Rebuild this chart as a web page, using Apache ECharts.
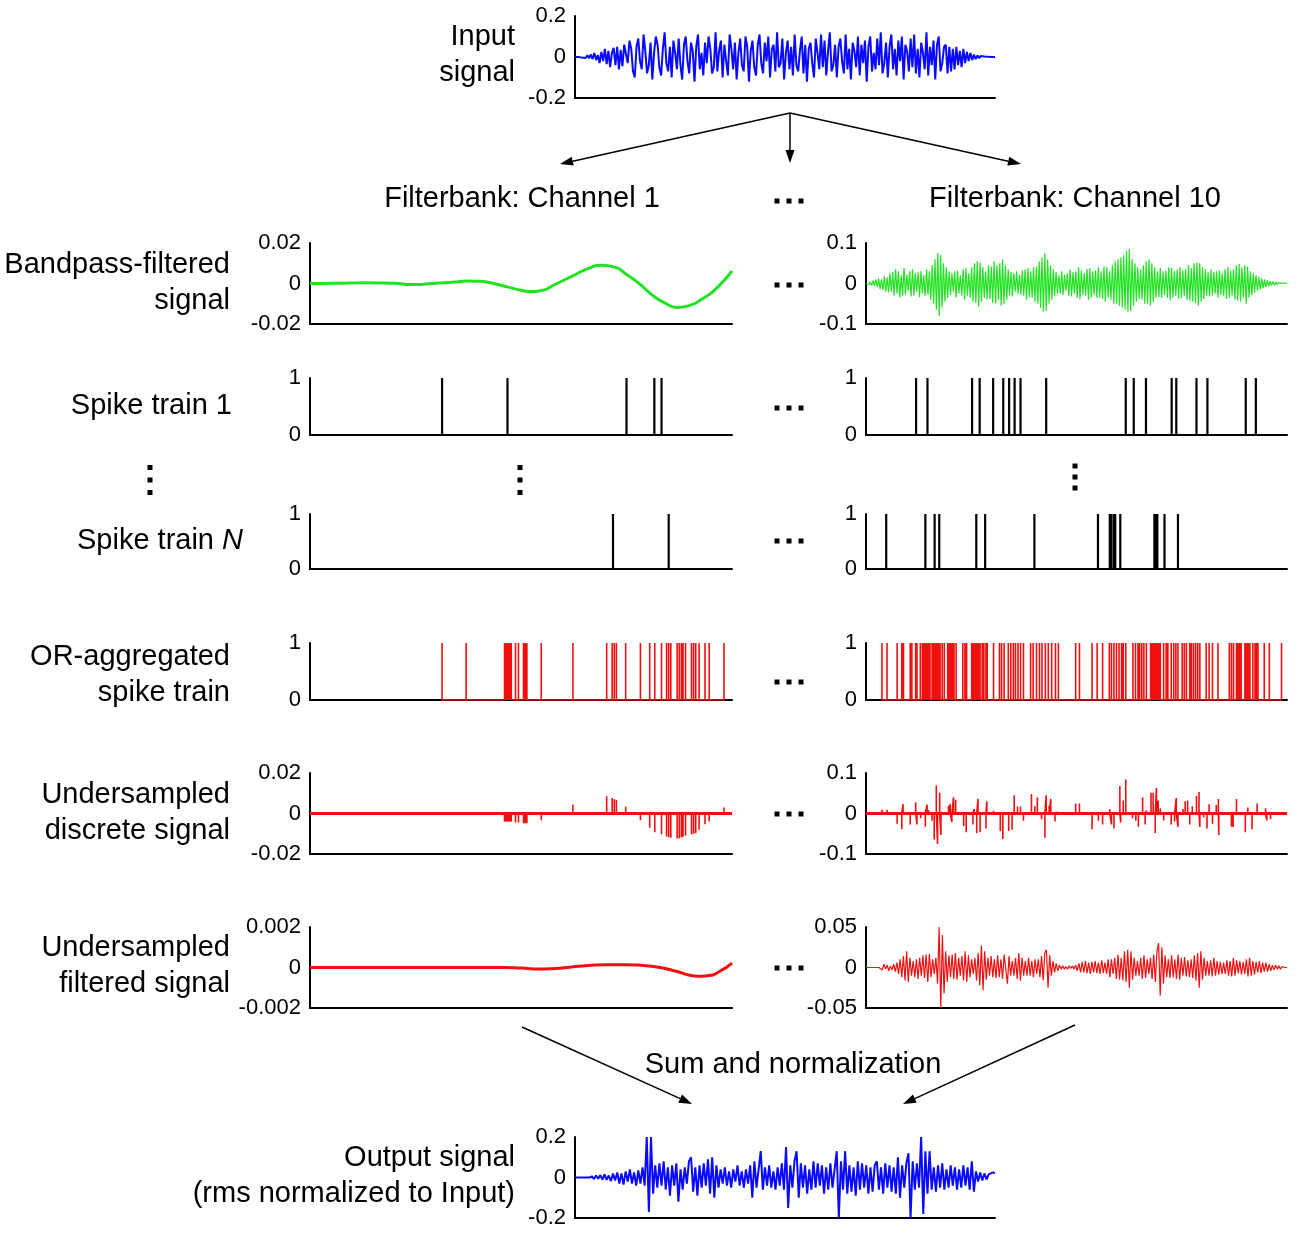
<!DOCTYPE html>
<html>
<head>
<meta charset="utf-8">
<script src="https://cdn.jsdelivr.net/npm/echarts@6/dist/echarts.min.js"></script>
<style>
  html, body { margin: 0; padding: 0; background: #fff; }
  #chart { width: 1300px; height: 1234px; }
</style>
</head>
<body>
<div id="chart"></div>
<script>
// ---- data ----
// x positions of events are on a 0..1000 time scale
var inputSignal = [0,0,0,.002,-.003,.004,-.005,.008,-.006,
  .012,-.01,.02,-.015,.01,-.03,.025,-.02,.04,-.035,.03,-.05,.02,.045,-.04,.05,-.06,.035,-.045,.06,
  .06,-.03,.08,.04,-.07,-.1,.05,.09,-.02,-.06,.11,.03,-.08,-.04,.07,-.11,.02,.1,.06,-.05,
  -.09,.04,.12,-.03,-.07,.05,-.1,.08,.02,-.06,.09,-.04,-.11,.06,.1,-.02,-.08,.07,.03,-.12,
  .05,.11,-.06,.02,-.09,.07,-.03,.1,.04,-.08,-.05,.12,-.07,.03,.08,-.1,.06,-.02,-.09,.11,
  .04,-.06,.07,-.11,.02,.09,-.04,-.07,.1,.05,-.12,.03,.08,-.05,-.09,.06,.11,-.03,-.08,.07,
  -.02,.1,-.1,.04,.06,-.07,.12,-.05,-.03,.09,-.11,.02,.08,-.06,.05,-.09,.11,-.04,-.07,.03,
  .1,-.08,.06,-.12,.04,.07,-.03,-.1,.09,.02,-.06,.11,-.05,.08,-.09,.03,.12,-.07,-.04,.06,
  -.1,.05,.09,-.02,-.08,.11,-.06,.04,-.11,.07,.03,-.05,.1,-.09,.06,-.03,.08,-.12,.05,.1,
  -.07,.02,-.06,.09,-.04,.12,-.08,-.03,.07,-.1,.05,.11,-.06,.04,-.09,.08,-.02,.1,-.11,.06,
  .03,-.07,.09,-.05,.11,-.08,.04,-.1,.07,.02,-.06,.12,-.09,.05,-.04,.08,-.11,.06,.1,-.07,
  -.03,.05,
  .06,-.08,.05,-.07,.04,-.06,.05,-.04,.03,-.05,.04,-.03,.025,-.02,.02,-.015,.012,-.01,.008,-.006,
  .005,-.003,.002,-.002,.001,0,0,0,0];

var ch1Bandpass = [[0,0],[60,.0001],[128,.0004],[200,.0001],[240,-.0005],[290,0],[318,.0004],
  [345,.0007],[369,.0012],[400,.0011],[430,.0002],[470,-.0018],[500,-.0033],[525,-.004],
  [550,-.0034],[580,-.0005],[620,.0035],[660,.0075],[690,.009],[720,.0082],[750,.0045],
  [780,0],[810,-.0055],[840,-.0095],[870,-.0118],[900,-.0108],[930,-.0075],[960,-.003],[1000,.0062]];

var ch10Bandpass = [0,.002,-.003,.004,-.005,.007,-.006,.01,-.009,.012,-.014,.01,-.016,.018,-.02,.015,-.022,.025,-.02,.028,
  -.03,.035,-.025,.03,-.035,.02,-.03,.038,-.028,.022,-.018,.03,-.032,.036,-.03,.025,-.02,.028,-.034,.03,
  -.025,.02,-.03,.035,-.028,.03,-.04,.045,-.05,.06,-.065,.075,-.08,.07,-.06,.05,-.045,.04,-.035,.03,
  -.028,.025,-.02,.03,-.035,.032,-.025,.02,-.03,.035,-.04,.038,-.03,.025,-.035,.04,-.045,.05,-.048,.055,
  -.058,.052,-.045,.04,-.035,.03,-.04,.045,-.038,.042,-.048,.055,-.05,.045,-.04,.05,-.055,.06,-.05,.045,
  -.04,.035,-.03,.028,-.032,.025,-.02,.03,-.025,.022,-.028,.032,-.03,.035,-.04,.038,-.033,.03,-.035,.04,
  -.045,.042,-.05,.055,-.06,.065,-.07,.075,-.068,.06,-.05,.045,-.04,.035,-.03,.028,-.025,.02,-.025,.03,
  -.028,.022,-.018,.025,-.03,.035,-.032,.028,-.025,.03,-.035,.04,-.038,.032,-.028,.025,-.03,.035,-.04,.038,
  -.035,.03,-.028,.032,-.036,.04,-.035,.03,-.038,.042,-.045,.04,-.035,.03,-.04,.045,-.05,.055,-.05,.06,
  -.055,.065,-.06,.07,-.065,.08,-.07,.085,-.068,.06,-.055,.05,-.045,.04,-.038,.035,-.04,.045,-.05,.055,
  -.05,.06,-.055,.05,-.045,.04,-.035,.03,-.033,.038,-.035,.03,-.028,.032,-.035,.04,-.042,.038,-.035,.03,
  -.03,.035,-.038,.04,-.036,.032,-.03,.035,-.04,.045,-.042,.038,-.045,.05,-.048,.052,-.055,.05,-.045,.04,
  -.038,.035,-.03,.028,-.032,.035,-.03,.028,-.025,.03,-.035,.032,-.028,.025,-.03,.035,-.038,.04,-.036,.032,
  -.03,.035,-.04,.045,-.042,.048,-.045,.04,-.035,.045,-.05,.042,-.035,.03,-.028,.025,-.022,.02,-.018,.016,
  -.015,.013,-.012,.01,-.009,.008,-.007,.006,-.005,.005,-.004,.003,-.003,.002,-.002,.001,-.001,.001,0,0];

var ch1Spikes1 = [313, 468, 750, 816, 833];
var ch1SpikesN = [718, 850];
var ch10Spikes1 = [119,146,252,270,302,326,340,353,367,428,617,636,665,726,737,785,811,902,926];
var ch10SpikesN = [48,141,163,174,262,283,400,551,579,583,589,592,604,685,688,692,709,741];

var ch1OR = [313,370,461,465,469,473,477,487,494,506,510,514,548,623,703,716,721,726,748,783,
  805,817,833,845,850,855,870,875,880,884,890,904,909,914,922,936,946,981];
var ch10OR = [38,50,74,85,89,105,109,118,121,129,134,137,141,145,149,152,157,160,164,168,172,176,181,186,
  194,198,201,205,209,214,230,235,239,251,255,259,263,267,271,276,280,285,288,303,317,322,328,
  338,344,350,355,361,367,374,391,397,405,412,418,426,433,441,450,457,498,507,537,549,562,
  578,583,589,595,601,607,611,617,634,640,646,650,655,660,666,676,680,684,688,692,696,699,
  707,713,717,725,731,736,741,751,756,761,769,773,778,783,788,793,808,815,823,836,
  863,868,873,880,883,887,891,900,904,908,912,919,924,928,931,946,958,987];

var ch1Discrete = [[313,.0002],[370,.0008],[461,-.004],[465,-.004],[469,-.004],[473,-.004],[477,-.004],
  [487,-.0045],[494,-.0045],[506,-.0048],[510,-.0048],[514,-.0048],[548,-.0033],[623,.0043],
  [703,.0085],[716,.0077],[721,.0072],[726,.0067],[748,.0033],[783,-.0033],[805,-.007],[817,-.0092],
  [833,-.0103],[845,-.0113],[850,-.0117],[855,-.012],[870,-.0123],[875,-.0122],[880,-.0118],
  [884,-.0115],[890,-.011],[904,-.0102],[909,-.01],[914,-.0097],[922,-.008],[936,-.0053],[946,-.004],[981,.003]];

var ch10Discrete = [[38,.009],[50,.009],[74,-.025],[85,-.039],[88,.023],[105,-.027],[118,.028],[121,-.027],
  [130,-.012],[141,-.033],[145,.022],[149,.008],[157,-.018],[162,-.064],[167,.069],[170,-.075],[175,.051],
  [178,-.053],[196,.019],[200,.023],[204,-.021],[208,.04],[213,.034],[232,-.031],[238,-.046],[254,-.027],
  [257,.011],[263,-.048],[266,.036],[271,-.046],[285,-.037],[287,.03],[303,.007],[319,-.043],[325,-.063],
  [339,-.043],[347,-.04],[352,.045],[360,.017],[367,.017],[374,-.018],[393,.048],[401,.018],[407,.04],
  [417,-.014],[425,-.06],[428,.045],[435,.019],[439,.036],[449,-.02],[455,.005],[498,.025],[507,.025],
  [537,-.039],[552,-.018],[562,-.027],[579,.011],[583,-.027],[589,-.037],[603,.068],[605,-.022],[611,.032],
  [617,.084],[633,-.012],[641,-.018],[647,-.033],[657,.04],[663,-.027],[666,.007],[677,.051],[682,.051],
  [687,-.048],[690,.063],[694,.032],[699,.013],[707,-.017],[725,-.027],[733,-.02],[737,.038],[741,-.033],
  [753,.011],[758,.03],[764,.032],[769,-.027],[775,.018],[785,.043],[791,.053],[793,-.033],[802,-.01],
  [810,-.037],[815,.023],[823,-.025],[832,.021],[837,.036],[838,-.053],[868,-.033],[872,-.033],[880,.036],
  [887,-.003],[901,-.046],[907,.015],[917,-.039],[929,.025],[949,.013],[952,-.017],[961,-.014]];

var ch1Filtered = [[0,0],[300,0],[460,0],[500,-.00003],[544,-.00008],[580,-.00005],[620,.00003],
  [660,.0001],[700,.00014],[750,.00014],[790,.0001],[830,0],[870,-.0002],[900,-.00038],
  [920,-.00043],[945,-.0004],[970,-.0002],[1000,.00022]];

var ch10Filtered = [0,0,0,0,0,0,0,0,0,.002,-.003,.004,-.002,.003,-.004,.002,-.003,.004,-.005,.006,
  -.008,.01,-.012,.014,-.016,.02,-.018,.012,-.01,.008,-.012,.01,-.014,.012,-.01,.015,-.013,.016,-.018,.017,
  -.012,.01,-.008,.012,-.02,.05,-.05,.04,-.032,.02,-.018,.015,-.012,.016,-.014,.018,-.015,.012,-.01,.014,
  -.016,.02,-.018,.015,-.012,.01,-.008,.012,-.016,.018,-.022,.027,-.028,.02,-.015,.012,-.01,.014,-.012,.01,
  -.013,.015,-.012,.01,-.014,.016,.018,-.02,.014,-.01,.008,-.01,.012,-.014,.018,-.016,.012,-.01,.008,-.01,
  .012,-.01,.008,-.012,.01,-.008,.01,-.012,.014,-.016,.018,.022,-.025,.015,-.01,.008,-.006,.005,-.004,.003,
  -.002,.002,-.002,.001,-.002,.002,-.001,.002,-.002,.003,-.004,.005,-.006,.007,-.006,.008,-.007,.006,-.008,.007,
  -.006,.008,-.007,.006,-.008,.009,-.007,.006,-.008,.01,-.012,.01,-.008,.012,-.014,.016,-.015,.012,-.016,.02,
  -.018,.022,-.025,.02,-.015,.012,-.01,.008,-.01,.012,-.014,.015,-.013,.01,-.008,.012,-.014,.016,-.018,.02,
  .03,-.035,.025,-.02,.015,-.012,.01,-.013,.015,-.012,.01,-.014,.016,-.015,.012,-.01,.013,-.011,.009,-.012,
  .01,-.013,.015,-.016,.018,-.025,.02,-.015,.012,-.01,.008,-.01,.009,-.011,.012,-.01,.008,-.009,.007,-.008,
  .006,-.008,.009,-.01,.008,-.011,.012,-.01,.009,-.007,.008,-.009,.007,-.008,.01,-.011,.012,-.01,.008,-.009,
  .007,-.006,.008,-.007,.006,-.005,.006,-.005,.004,-.004,.003,-.003,.003,-.002,.002,-.002,.001,-.001,0,0];

var outputSignal = [0,0,0,0,0,0,0,0,.005,-.008,.01,-.006,.012,-.01,.015,-.012,.01,-.018,.02,-.015,
  .025,-.03,.02,-.035,.03,-.02,.04,-.03,.025,-.04,.035,-.03,.05,-.04,.2,-.17,.2,-.08,.06,-.05,
  .07,-.04,.08,-.06,.05,-.09,.06,-.04,.07,-.12,.04,-.06,.05,-.03,.08,.1,-.07,.05,-.09,.06,
  -.05,.07,-.04,.09,-.08,.1,-.1,.06,-.05,.04,-.03,.05,-.04,.03,-.05,.04,-.02,.06,-.04,.03,
  -.05,.04,-.03,.06,-.1,.08,-.05,.04,.13,-.06,.05,-.04,.06,-.05,.03,-.06,.05,-.04,.07,-.06,
  .15,-.15,.06,-.05,.08,.13,-.1,.07,-.05,.06,-.08,.04,-.06,.08,-.05,.07,-.04,.06,-.08,.05,
  -.06,.07,-.05,.04,.13,-.2,.08,-.06,.13,-.08,.06,-.07,.05,-.09,.08,-.06,.07,-.05,.06,-.08,
  .05,-.07,.06,.08,-.06,.05,-.08,.07,-.05,.06,-.07,.05,-.08,.1,-.1,.06,-.05,.07,.12,-.2,
  .08,-.06,.07,-.05,.2,-.18,.13,-.08,.13,-.06,.05,-.07,.06,-.05,.07,-.06,.04,-.05,.06,-.04,
  .05,-.06,.04,-.05,.06,-.04,.05,-.06,.08,-.07,.03,-.02,.025,-.015,.02,-.01,.015,.02,.025,.02];

// y tick labels per panel: [min, 0, max]
var ticksInput = [-0.2, 0, 0.2];
var ticksBand1 = [-0.02, 0, 0.02];
var ticksBand10 = [-0.1, 0, 0.1];
var ticksSpike = [0, 1];
var ticksDisc1 = [-0.02, 0, 0.02];
var ticksDisc10 = [-0.1, 0, 0.1];
var ticksFilt1 = [-0.002, 0, 0.002];
var ticksFilt10 = [-0.05, 0, 0.05];
var ticksOutput = [-0.2, 0, 0.2];

var BLUE = '#0a0aff', GREEN = '#22e322', RED = '#f01010', BLACK = '#000';
var FONT = '"Liberation Sans", Arial, Helvetica, sans-serif';
var TITLE_SIZE = 29;

var chart = echarts.init(document.getElementById('chart'));
var grids = [], xAxes = [], yAxes = [], series = [];

function indexed(arr) {
  return arr.map(function (v, i) { return [i, v]; });
}
function spikes(pos) {
  var d = [];
  pos.forEach(function (x) { d.push([x, 0], [x, 1], [x, 0]); });
  return d;
}
function stems(pairs) {
  var d = [];
  pairs.forEach(function (p) { d.push([p[0], 0], [p[0], p[1]], [p[0], 0]); });
  return d;
}

function addPanel(box, ticks, xMax, list) {
  var gi = grids.length;
  grids.push({ left: box[0], top: box[1], width: box[2], height: box[3] });
  xAxes.push({
    type: 'value', gridIndex: gi, min: 0, max: xMax,
    axisLine: { show: true, onZero: false, lineStyle: { color: BLACK, width: 2 } },
    axisTick: { show: false }, axisLabel: { show: false }, splitLine: { show: false }
  });
  yAxes.push({
    type: 'value', gridIndex: gi,
    min: ticks[0], max: ticks[ticks.length - 1], interval: ticks[ticks.length - 1] - ticks[ticks.length - 2],
    axisLine: { show: true, lineStyle: { color: BLACK, width: 2 } },
    axisTick: { show: false }, splitLine: { show: false },
    axisLabel: { color: BLACK, fontSize: 22, fontFamily: FONT, margin: 9 }
  });
  list.forEach(function (s) {
    s.xAxisIndex = gi; s.yAxisIndex = gi;
    s.type = s.type || 'line';
    s.showSymbol = false; s.symbol = 'none';
    s.animation = false; s.silent = true;
    series.push(s);
  });
}

var L = [310, 422], R = [866, 421], C = [575, 420];

addPanel([C[0], 16, C[1], 82], ticksInput, inputSignal.length - 1,
  [{ data: indexed(inputSignal), lineStyle: { color: BLUE, width: 2 } }]);

addPanel([L[0], 243, L[1], 81], ticksBand1, 1000,
  [{ data: ch1Bandpass, smooth: 0.6, lineStyle: { color: GREEN, width: 3 } }]);
addPanel([R[0], 243, R[1], 81], ticksBand10, ch10Bandpass.length - 1,
  [{ data: indexed(ch10Bandpass), lineStyle: { color: GREEN, width: 1.2 } }]);

addPanel([L[0], 378, L[1], 57], ticksSpike, 1000,
  [{ data: spikes(ch1Spikes1), lineStyle: { color: BLACK, width: 2.2 } }]);
addPanel([R[0], 378, R[1], 57], ticksSpike, 1000,
  [{ data: spikes(ch10Spikes1), lineStyle: { color: BLACK, width: 2.2 } }]);

addPanel([L[0], 514, L[1], 55], ticksSpike, 1000,
  [{ data: spikes(ch1SpikesN), lineStyle: { color: BLACK, width: 2.2 } }]);
addPanel([R[0], 514, R[1], 55], ticksSpike, 1000,
  [{ data: spikes(ch10SpikesN), lineStyle: { color: BLACK, width: 2.2 } }]);

addPanel([L[0], 643, L[1], 57], ticksSpike, 1000,
  [{ data: spikes(ch1OR), lineStyle: { color: RED, width: 1.6 } }]);
addPanel([R[0], 643, R[1], 57], ticksSpike, 1000,
  [{ data: spikes(ch10OR), lineStyle: { color: RED, width: 1.6 } }]);

var zeroLine = {
  symbol: 'none', silent: true, animation: false, label: { show: false },
  lineStyle: { color: RED, width: 3, type: 'solid' }, data: [{ yAxis: 0 }]
};
addPanel([L[0], 773, L[1], 81], ticksDisc1, 1000,
  [{ data: stems(ch1Discrete), lineStyle: { color: RED, width: 1.6 }, markLine: zeroLine }]);
addPanel([R[0], 773, R[1], 81], ticksDisc10, 1000,
  [{ data: stems(ch10Discrete), lineStyle: { color: RED, width: 1.6 }, markLine: zeroLine }]);

addPanel([L[0], 927, L[1], 81], ticksFilt1, 1000,
  [{ data: ch1Filtered, smooth: 0.6, lineStyle: { color: RED, width: 3 } }]);
addPanel([R[0], 927, R[1], 81], ticksFilt10, ch10Filtered.length - 1,
  [{ data: indexed(ch10Filtered), lineStyle: { color: RED, width: 1.2 } }]);

addPanel([C[0], 1137, C[1], 81], ticksOutput, outputSignal.length - 1,
  [{ data: indexed(outputSignal), lineStyle: { color: BLUE, width: 2 } }]);

// ---- annotations ----
var g = [];
function label(txt, x, y, align) {
  g.push({
    type: 'text', x: x, y: y, silent: true,
    style: {
      text: txt, fill: BLACK, font: TITLE_SIZE + 'px ' + FONT,
      textAlign: align || 'right', textVerticalAlign: 'middle',
      rich: { i: { fontStyle: 'italic', fontSize: TITLE_SIZE, fontFamily: FONT, fill: BLACK } }
    }
  });
}
function arrow(x1, y1, x2, y2) {
  var a = Math.atan2(y2 - y1, x2 - x1), len = 13, w = 4.5;
  var bx = x2 - len * Math.cos(a), by = y2 - len * Math.sin(a);
  var px = -Math.sin(a) * w, py = Math.cos(a) * w;
  g.push({ type: 'line', silent: true, shape: { x1: x1, y1: y1, x2: bx, y2: by }, style: { stroke: BLACK, lineWidth: 1.5 } });
  g.push({ type: 'polygon', silent: true, shape: { points: [[x2, y2], [bx + px, by + py], [bx - px, by - py]] }, style: { fill: BLACK } });
}
function hdots(cx, cy) {
  [-12, 0, 12].forEach(function (d) {
    g.push({ type: 'rect', silent: true, shape: { x: cx + d - 2.5, y: cy - 2.5, width: 5, height: 5 }, style: { fill: BLACK } });
  });
}
function vdots(cx, cy, gap) {
  [-gap, 0, gap].forEach(function (d) {
    g.push({ type: 'rect', silent: true, shape: { x: cx - 2.5, y: cy + d - 2.5, width: 5, height: 5 }, style: { fill: BLACK } });
  });
}

label('Input', 515, 37);
label('signal', 515, 73);
label('Filterbank: Channel 1', 522, 199, 'center');
label('Filterbank: Channel 10', 1075, 199, 'center');
label('Bandpass-filtered', 230, 265);
label('signal', 230, 301);
label('Spike train 1', 232, 406);
label('Spike train {i|N}', 243, 541);
label('OR-aggregated', 230, 657);
label('spike train', 230, 693);
label('Undersampled', 230, 795);
label('discrete signal', 230, 831);
label('Undersampled', 230, 948);
label('filtered signal', 230, 984);
label('Sum and normalization', 793, 1065, 'center');
label('Output signal', 515, 1158);
label('(rms normalized to Input)', 515, 1194);

arrow(790, 113, 560, 164);
arrow(790, 113, 790, 163);
arrow(790, 113, 1021, 164);
arrow(522, 1027, 692, 1104);
arrow(1075, 1025, 903, 1104);

[201, 285, 408, 541, 682, 814, 968].forEach(function (y) { hdots(789, y); });
vdots(150, 480, 12.5);
vdots(520, 480, 12.5);
vdots(1075, 477, 11);

chart.setOption({
  backgroundColor: '#fff',
  animation: false,
  grid: grids,
  xAxis: xAxes,
  yAxis: yAxes,
  series: series,
  graphic: { elements: g }
});
</script>
</body>
</html>
